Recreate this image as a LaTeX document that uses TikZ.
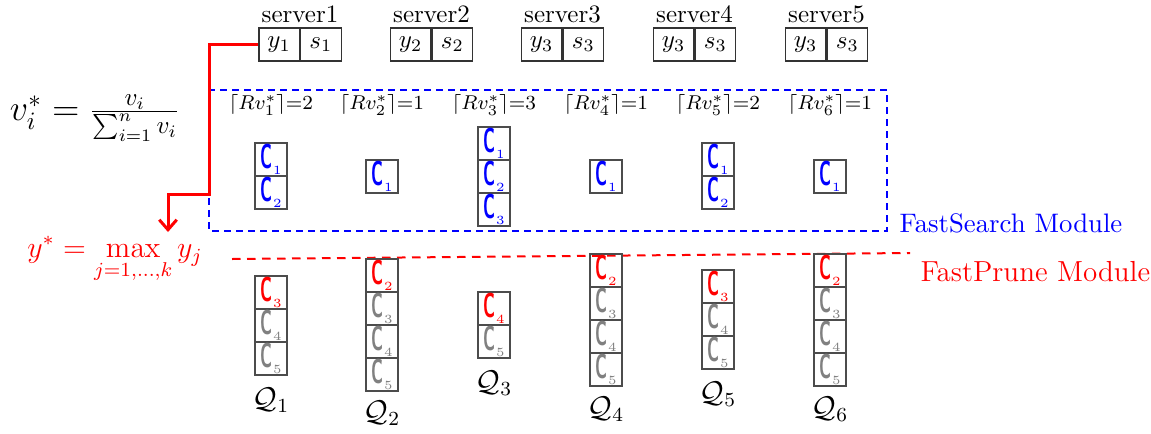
\documentclass[tikz,border=0pt]{standalone}
\usepackage{amsmath}
\usepackage{graphicx}
\usetikzlibrary{arrows.meta}
\newcommand\ctrglyph[2]{\textcolor{#1}{\scalebox{0.68}[1.38]{\sffamily\bfseries C}\kern0.3pt\raisebox{-0.5ex}{\tiny #2}}}
\begin{document}
\begin{tikzpicture}[x=0.4pt,y=-0.4pt,
  scell/.style={draw=black!80, line width=0.5pt, minimum width=16.2pt, minimum height=13.2pt, inner sep=0pt},
  cell/.style={draw=black!70, line width=0.5pt, minimum width=12.8pt, minimum height=13.2pt, inner sep=0pt},
  rvlab/.style={font=\footnotesize, inner sep=0pt},
  qlab/.style={font=\large, inner sep=0pt},
  bluedash/.style={draw=blue, line width=0.8pt, dash pattern=on 2.8pt off 2pt},
  reddash/.style={draw=red, line width=0.8pt, dash pattern=on 3.4pt off 2.6pt},
  redpath/.style={draw=red, line width=1.2pt}]
\useasboundingbox (0,0) rectangle (1151,433);

% servers
\foreach \i/\x/\ya/\sa in {1/300/y_1/s_1, 2/431.5/y_2/s_2, 3/562.5/y_3/s_3, 4/694.5/y_3/s_3, 5/826.5/y_3/s_3} {
  \node[scell, anchor=east] (sy\i) at (\x,44.5) {$\ya$};
  \node[scell, anchor=west] (ss\i) at (\x,44.5) {$\sa$};
  \node[inner sep=0pt] (sl\i) at (\x,14) {server\i};
}

% formulas
\node[inner sep=0pt] (vform) at (95,118) {\Large $v_i^* = \frac{v_i}{\sum_{i=1}^{n} v_i}$};
\node[inner sep=0pt, text=red] (yform) at (115,260) {\large $\displaystyle y^* = \max_{j=1,\ldots,k} y_j$};

% FastSearch module box
\draw[bluedash] (209,90) rectangle (887,231);
\node[anchor=west, text=blue, inner sep=0pt, font=\fontsize{10.7}{12}\selectfont] (fs) at (899,223) {FastSearch Module};

% Rv labels
\foreach \x/\k/\v in {271/1/2, 382/2/1, 494/3/3, 606/4/1, 718/5/2, 830/6/1}
  \node[rvlab] (rv\k) at (\x,105) {$\lceil Rv_{\k}^{*}\rceil$=\v};

% blue cells
\foreach \x/\y/\n [count=\k] in {271/159.5/1, 271/192.5/2, 382/176.5/1,
   494/143.5/1, 494/176.5/2, 494/209.5/3, 606/176.5/1,
   718/159.5/1, 718/192.5/2, 830/176.5/1}
  \node[cell] (b\k) at (\x,\y) {\ctrglyph{blue}{\n}};

% red dashed line
\coordinate (pl) at (232,259);
\coordinate (pr) at (910,253);
\draw[reddash] (pl) -- (pr);
\node[anchor=west, text=red, inner sep=0pt, font=\fontsize{11.6}{13}\selectfont] (fp) at (920,272) {FastPrune Module};

% queue cells
\foreach \x/\y/\c/\n [count=\k] in {
   271/292.5/red/3, 271/325.5/black!50/4, 271/358.5/black!50/5,
   382/275.5/red/2, 382/308.5/black!50/3, 382/341.5/black!50/4, 382/374.5/black!50/5,
   494/308.5/red/4, 494/341.5/black!50/5,
   606/270.5/red/2, 606/303.5/black!50/3, 606/336.5/black!50/4, 606/369.5/black!50/5,
   718/286.5/red/3, 718/319.5/black!50/4, 718/352.5/black!50/5,
   830/270.5/red/2, 830/303.5/black!50/3, 830/336.5/black!50/4, 830/369.5/black!50/5}
  \node[cell] (q\k) at (\x,\y) {\ctrglyph{\c}{\n}};

% queue labels
\foreach \x/\y/\k in {271/400/1, 382/413/2, 494/383/3, 606/409/4, 718/394/5, 830/409/6}
  \node[qlab] (ql\k) at (\x,\y) {$\mathcal{Q}_{\k}$};

% red arrow
\coordinate (atip) at (168,232);
\draw[redpath, -{Straight Barb[length=4pt,width=7pt]}] (sy1.west) -- (209,44.5) -- (209,194) -- (168,194) -- (atip);
\end{tikzpicture}
\end{document}
